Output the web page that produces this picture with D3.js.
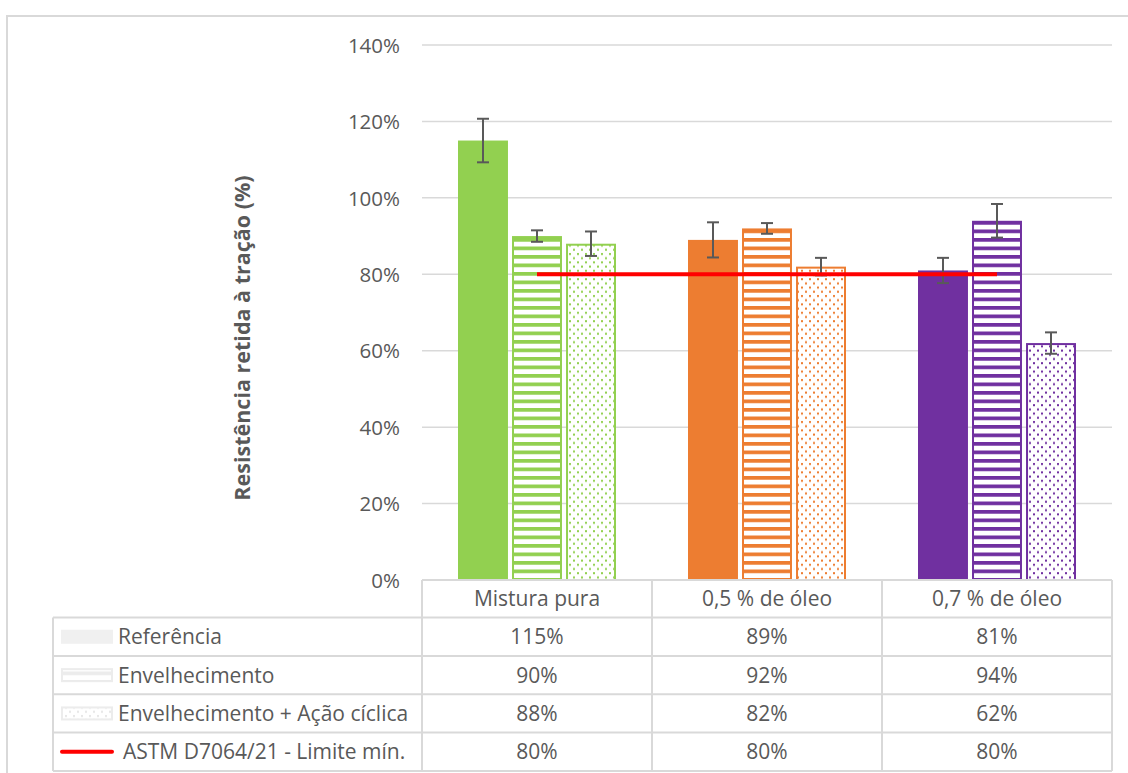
<!DOCTYPE html>
<html>
<head>
<meta charset="utf-8">
<script src="https://cdn.jsdelivr.net/npm/d3@7"></script>
<style>
  html, body { margin: 0; padding: 0; background: #fff; }
  svg { display: block; }
  text { font-family: "Open Sans", sans-serif; fill: #595959; }
</style>
</head>
<body>
<div id="chart"></div>
<script>
// Categories (mix types) and the three test series, in percent
const categories = ["Mistura pura", "0,5 % de óleo", "0,7 % de óleo"];
const seriesNames = ["Referência", "Envelhecimento", "Envelhecimento + Ação cíclica"];
const referencia = [115, 89, 81];
const envelhecimento = [90, 92, 94];
const envelhecimentoCiclico = [88, 82, 62];
// Standard deviation of each bar, in percent
const errReferencia = [5.7, 4.6, 3.3];
const errEnvelhecimento = [1.5, 1.4, 4.4];
const errEnvelhecimentoCiclico = [3.2, 2.3, 2.8];
// Minimum retained strength required by the standard
const limiteNome = "ASTM D7064/21 - Limite mín.";
const limite = [80, 80, 80];
const yTicks = [0, 20, 40, 60, 80, 100, 120, 140];
const categoryColors = ["#92D050", "#ED7D31", "#7030A0"];

const W = 1128, H = 773;
const plot = { left: 422, right: 1112, top: 45, bottom: 580 };
const grid = "#d9d9d9";
const textColor = "#595959";

const svg = d3.select("#chart").append("svg").attr("width", W).attr("height", H);
const defs = svg.append("defs");

// Fill patterns: wide horizontal stripes and sparse dots, one per colour
function stripePattern(id, color) {
  const p = defs.append("pattern").attr("id", id)
    .attr("patternUnits", "userSpaceOnUse").attr("width", 8).attr("height", 8.5);
  p.append("rect").attr("width", 8).attr("height", 8.5).attr("fill", "#fff");
  p.append("rect").attr("y", 0).attr("width", 8).attr("height", 3.7).attr("fill", color);
}
function dotPattern(id, color) {
  const p = defs.append("pattern").attr("id", id)
    .attr("patternUnits", "userSpaceOnUse").attr("width", 8).attr("height", 8.4);
  p.append("rect").attr("width", 8).attr("height", 8.4).attr("fill", "#fff");
  p.append("rect").attr("x", 1).attr("y", 1).attr("width", 2).attr("height", 2).attr("fill", color);
  p.append("rect").attr("x", 5).attr("y", 5.2).attr("width", 2).attr("height", 2).attr("fill", color);
}
categoryColors.forEach((c, i) => { stripePattern("stripe" + i, c); dotPattern("dot" + i, c); });
stripePattern("stripeKey", "#ececec");
dotPattern("dotKey", "#e6e6e6");

// Outer chart frame
svg.append("path")
  .attr("d", `M7,${H} L7,16 L${W},16`)
  .attr("fill", "none").attr("stroke", grid).attr("stroke-width", 2);

// Scales
const y = d3.scaleLinear().domain([0, 140]).range([plot.bottom, plot.top]);
const x = d3.scaleBand().domain(categories).range([plot.left, plot.right]);
const xs = d3.scaleBand().domain(seriesNames).range([36, 194]).paddingInner(0.075);

// Horizontal gridlines
svg.append("g").selectAll("line").data(yTicks).join("line")
  .attr("x1", plot.left).attr("x2", plot.right)
  .attr("y1", d => y(d)).attr("y2", d => y(d))
  .attr("stroke", grid).attr("stroke-width", 1.5);

// Y axis tick labels
const yAxis = d3.axisLeft(y).tickValues(yTicks).tickSize(0).tickPadding(0)
  .tickFormat(d => d + "%");
const yg = svg.append("g").attr("transform", "translate(400,0)").call(yAxis);
yg.select(".domain").remove();
yg.selectAll("text")
  .style("font-family", "'Open Sans', sans-serif")
  .attr("font-size", 20.5).attr("fill", textColor).attr("dy", "0.35em");

// Y axis title
svg.append("text")
  .attr("transform", "translate(250,338) rotate(-90)")
  .attr("text-anchor", "middle")
  .attr("font-size", 21.5).attr("font-weight", "bold")
  .text("Resistência retida à tração (%)");

// Bars
const seriesData = [
  { name: seriesNames[0], values: referencia, errs: errReferencia, fill: i => categoryColors[i] },
  { name: seriesNames[1], values: envelhecimento, errs: errEnvelhecimento, fill: i => `url(#stripe${i})` },
  { name: seriesNames[2], values: envelhecimentoCiclico, errs: errEnvelhecimentoCiclico, fill: i => `url(#dot${i})` }
];
const bars = [];
seriesData.forEach((s, si) => {
  categories.forEach((c, ci) => {
    bars.push({ si, ci, c, s: s.name, v: s.values[ci], e: s.errs[ci], fill: s.fill(ci) });
  });
});

const barG = svg.append("g");
barG.selectAll("rect").data(bars).join("rect")
  .attr("x", d => x(d.c) + xs(d.s) + (d.si === 0 ? 0 : 1))
  .attr("width", d => xs.bandwidth() - (d.si === 0 ? 0 : 2))
  .attr("y", d => y(d.v) + (d.si === 0 ? 0 : 1))
  .attr("height", d => y(0) - y(d.v) - (d.si === 0 ? 0 : 1))
  .attr("fill", d => d.fill)
  .attr("stroke", d => d.si === 0 ? "none" : categoryColors[d.ci])
  .attr("stroke-width", 2);

// Error bars
const errG = svg.append("g").attr("stroke", "#595959").attr("stroke-width", 2);
bars.forEach(d => {
  const cx = x(d.c) + xs(d.s) + xs.bandwidth() / 2;
  errG.append("line").attr("x1", cx).attr("x2", cx).attr("y1", y(d.v + d.e)).attr("y2", y(d.v - d.e));
  [d.v + d.e, d.v - d.e].forEach(v => {
    errG.append("line").attr("x1", cx - 6).attr("x2", cx + 6).attr("y1", y(v)).attr("y2", y(v));
  });
});

// Minimum limit line
const line = d3.line().x((d, i) => x(categories[i]) + x.bandwidth() / 2).y(d => y(d));
svg.append("path").datum(limite).attr("d", line)
  .attr("fill", "none").attr("stroke", "#FF0000").attr("stroke-width", 4);

// Data table below the plot
const tableLeft = 53;
const rowEdges = [580, 617.5, 656, 694.3, 732.6, 771];
const tg = svg.append("g").attr("stroke", grid).attr("stroke-width", 2).attr("fill", "none");
// header row (category names)
tg.append("line").attr("x1", plot.left).attr("x2", plot.right).attr("y1", rowEdges[0]).attr("y2", rowEdges[0]);
for (let r = 1; r < rowEdges.length; r++) {
  tg.append("line").attr("x1", tableLeft).attr("x2", plot.right).attr("y1", rowEdges[r]).attr("y2", rowEdges[r]);
}
tg.append("line").attr("x1", tableLeft).attr("x2", tableLeft).attr("y1", rowEdges[1]).attr("y2", rowEdges[5]);
[...categories.map(c => x(c)), plot.right].forEach(xx => {
  tg.append("line").attr("x1", xx).attr("x2", xx).attr("y1", rowEdges[0]).attr("y2", rowEdges[5]);
});

const rowMid = r => (rowEdges[r] + rowEdges[r + 1]) / 2;
const cellFont = 21;
categories.forEach(c => {
  svg.append("text").attr("x", x(c) + x.bandwidth() / 2).attr("y", rowMid(0))
    .attr("dy", "0.35em").attr("text-anchor", "middle").attr("font-size", cellFont).text(c);
});
const tableRows = [referencia, envelhecimento, envelhecimentoCiclico, limite];
tableRows.forEach((vals, r) => {
  vals.forEach((v, ci) => {
    svg.append("text").attr("x", x(categories[ci]) + x.bandwidth() / 2).attr("y", rowMid(r + 1))
      .attr("dy", "0.35em").attr("text-anchor", "middle").attr("font-size", cellFont).text(v + "%");
  });
});

// Legend keys and series names in the first column
const keyX = 61, keyW = 52, keyH = 14;
svg.append("rect").attr("x", keyX).attr("y", rowMid(1) - keyH / 2).attr("width", keyW).attr("height", keyH)
  .attr("fill", "#f0f0f0");
svg.append("rect").attr("x", keyX + 1).attr("y", rowMid(2) - keyH / 2 + 1).attr("width", keyW - 2).attr("height", keyH - 2)
  .attr("fill", "url(#stripeKey)").attr("stroke", "#ececec").attr("stroke-width", 2);
svg.append("rect").attr("x", keyX + 1).attr("y", rowMid(3) - keyH / 2 + 1).attr("width", keyW - 2).attr("height", keyH - 2)
  .attr("fill", "url(#dotKey)").attr("stroke", "#ececec").attr("stroke-width", 2);
svg.append("line").attr("x1", keyX + 1).attr("x2", keyX + keyW - 1).attr("y1", rowMid(4)).attr("y2", rowMid(4))
  .attr("stroke", "#FF0000").attr("stroke-width", 4).attr("stroke-linecap", "round");

const legendLabels = [...seriesNames, limiteNome];
legendLabels.forEach((t, r) => {
  svg.append("text").attr("x", r === 3 ? 123 : 118).attr("y", rowMid(r + 1))
    .attr("dy", "0.35em").attr("font-size", cellFont).text(t);
});
</script>
</body>
</html>
